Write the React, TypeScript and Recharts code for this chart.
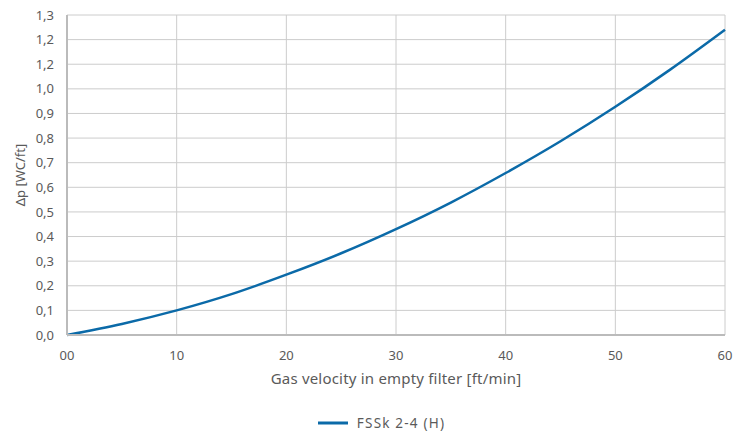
import React from "react";
import { LineChart, Line, XAxis, YAxis, CartesianGrid, Legend } from "recharts";

const velocity = [0, 5, 10, 15, 20, 25, 30, 35, 40, 45, 50, 55, 60];
const pressureDrop = [0, 0.045, 0.1, 0.166, 0.245, 0.332, 0.43, 0.538, 0.658, 0.787, 0.927, 1.078, 1.24];
const xTicks = [0, 10, 20, 30, 40, 50, 60];
const xTickLabels = ["00", "10", "20", "30", "40", "50", "60"];
const yTicks = [0, 0.1, 0.2, 0.3, 0.4, 0.5, 0.6, 0.7, 0.8, 0.9, 1.0, 1.1, 1.2, 1.3];
const yTickLabels = ["0,0", "0,1", "0,2", "0,3", "0,4", "0,5", "0,6", "0,7", "0,8", "0,9", "1,0", "1,2", "1,2", "1,3"];
const seriesName = "FSSk 2-4 (H)";

const data = velocity.map((v, i) => ({ v, dp: pressureDrop[i] }));

const FONT = "'Noto Sans', sans-serif";
const TEXT = "#5a5a5a";

const LegendContent = () => (
  <div style={{ display: "flex", justifyContent: "center", alignItems: "center", fontFamily: FONT, fontSize: 13.5, letterSpacing: 1.2, color: TEXT, paddingTop: 14, paddingLeft: 38 }}>
    <svg width={32} height={10} style={{ marginRight: 7 }}>
      <line x1={0} y1={5} x2={30} y2={5} stroke="#0b6aa8" strokeWidth={3} />
    </svg>
    <span>{seriesName}</span>
  </div>
);

export default function App() {
  return (
    <div style={{ position: "absolute", top: 0, left: 0 }}>
      <LineChart
        width={749}
        height={432}
        data={data}
        margin={{ top: 15, right: 24, left: 0, bottom: 0 }}
      >
        <CartesianGrid stroke="#cccccc" strokeWidth={1} />
        <XAxis
          dataKey="v"
          type="number"
          domain={[0, 60]}
          ticks={xTicks}
          tickFormatter={(val: number) => xTickLabels[xTicks.indexOf(val)] ?? String(val)}
          tickLine={false}
          axisLine={{ stroke: "#bbbbbb", strokeWidth: 2 }}
          tick={{ fill: TEXT, fontSize: 13, fontFamily: FONT }}
          tickMargin={10}
          height={65}
          label={{ value: "Gas velocity in empty filter [ft/min]", position: "insideBottom", offset: 16, fill: TEXT, fontSize: 15, fontFamily: FONT, letterSpacing: 0.2 }}
        />
        <YAxis
          type="number"
          domain={[0, 1.3]}
          ticks={yTicks}
          interval={0}
          tickFormatter={(val: number) => {
            const i = yTicks.findIndex((t) => Math.abs(t - val) < 1e-6);
            return i >= 0 ? yTickLabels[i] : String(val);
          }}
          tickLine={false}
          axisLine={{ stroke: "#bbbbbb", strokeWidth: 2 }}
          tick={{ fill: TEXT, fontSize: 13, fontFamily: FONT }}
          tickMargin={7}
          width={67}
          label={{ value: "Δp [WC/ft]", angle: -90, position: "insideLeft", offset: 20, fill: TEXT, fontSize: 13, fontFamily: FONT, style: { textAnchor: "middle" } }}
        />
        <Legend verticalAlign="bottom" height={32} content={<LegendContent />} />
        <Line
          type="monotone"
          dataKey="dp"
          name={seriesName}
          stroke="#0b6aa8"
          strokeWidth={2.5}
          dot={false}
          isAnimationActive={false}
        />
      </LineChart>
    </div>
  );
}
